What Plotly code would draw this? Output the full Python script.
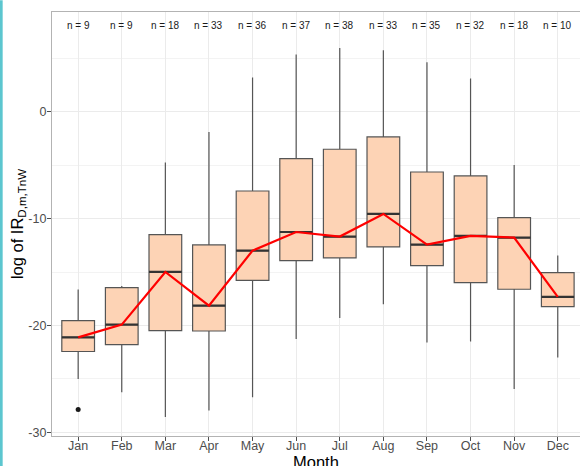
import plotly.graph_objects as go

months = ["Jan", "Feb", "Mar", "Apr", "May", "Jun", "Jul", "Aug", "Sep", "Oct", "Nov", "Dec"]
n_obs = [9, 9, 18, 33, 36, 37, 38, 33, 35, 32, 18, 10]
upper_whisker = [-16.63, -16.29, -4.74, -1.87, 3.22, 5.37, 5.99, 5.78, 4.65, 3.13, -4.96, -13.45]
q3 = [-19.53, -16.44, -11.48, -12.45, -7.40, -4.36, -3.49, -2.34, -5.62, -5.99, -9.89, -15.04]
median = [-21.10, -19.91, -14.98, -18.13, -12.98, -11.24, -11.67, -9.55, -12.42, -11.61, -11.76, -17.32]
q1 = [-22.43, -21.78, -20.47, -20.51, -15.76, -13.91, -13.67, -12.64, -14.38, -15.97, -16.60, -18.22]
lower_whisker = [-25.0, -26.25, -28.56, -27.96, -26.71, -21.25, -19.29, -18.0, -21.59, -21.50, -25.94, -23.0]
outlier_month = ["Jan"]
outlier_value = [-27.87]
y_ticks = [-30, -20, -10, 0]
y_tick_labels = ["-30", "-20", "-10", "0"]

idx = list(range(len(months)))
BOX_W = 0.75
FONT = "Liberation Sans, Arial, sans-serif"

fig = go.Figure()
fig.add_trace(go.Box(
    x=idx, q1=q1, median=median, q3=q3,
    lowerfence=lower_whisker, upperfence=upper_whisker,
    width=BOX_W, whiskerwidth=0, boxpoints=False,
    fillcolor="#FDD3B5", line=dict(color="#555555", width=1.2),
    showlegend=False, hoverinfo="skip",
))

# thicker median bars (ggplot style)
mx, my = [], []
for i, m in zip(idx, median):
    mx += [i - BOX_W / 2, i + BOX_W / 2, None]
    my += [m, m, None]
fig.add_trace(go.Scatter(x=mx, y=my, mode="lines",
                         line=dict(color="#333333", width=2.2),
                         showlegend=False, hoverinfo="skip"))

# outliers
fig.add_trace(go.Scatter(x=[months.index(m) for m in outlier_month], y=outlier_value,
                         mode="markers", marker=dict(color="#1a1a1a", size=5),
                         showlegend=False, hoverinfo="skip"))

# red line through medians
fig.add_trace(go.Scatter(x=idx, y=median, mode="lines",
                         line=dict(color="#FF0000", width=2.2),
                         showlegend=False, hoverinfo="skip"))

for i, n in zip(idx, n_obs):
    fig.add_annotation(x=i, y=8.1, text=f"n = {n}", showarrow=False,
                       font=dict(family=FONT, size=10, color="#1a1a1a"),
                       xanchor="center", yanchor="middle")

L, R, T, B = 52.3, 0, 11.7, 30.3
W, H = 580, 466
pw, ph = W - L - R, H - T - B

# x axis title
fig.add_annotation(xref="paper", yref="paper", x=0.5, y=0, yshift=-25.5,
                   text="Month", showarrow=False, xanchor="center", yanchor="middle",
                   font=dict(family=FONT, size=16.5, color="black"))

fig.add_shape(type="rect", xref="paper", yref="paper",
              x0=-L / pw, x1=(3 - L) / pw, y0=-B / ph, y1=1 + T / ph,
              fillcolor="#5CC6CF", line=dict(width=0), layer="above")

fig.update_layout(
    width=W, height=H,
    margin=dict(l=L, r=R, t=T, b=B, pad=0),
    paper_bgcolor="white", plot_bgcolor="white",
    font=dict(family=FONT),
    xaxis=dict(
        range=[-0.6, 11.51], tickvals=idx, ticktext=months,
        showgrid=True, gridcolor="#EBEBEB", gridwidth=1,
        showline=True, linecolor="#B3B3B3", linewidth=1.2, mirror=True,
        ticks="outside", ticklen=4, tickcolor="#4D4D4D",
        ticklabelstandoff=-6,
        tickfont=dict(family=FONT, size=12.5, color="#4D4D4D"),
        zeroline=False, automargin=False,
    ),
    yaxis=dict(
        range=[-30.34, 9.36], tickvals=y_ticks, ticktext=y_tick_labels,
        showgrid=True, gridcolor="#EBEBEB", gridwidth=1,
        minor=dict(dtick=5, tick0=0, showgrid=True, gridcolor="#F3F3F3", gridwidth=0.7),
        showline=True, linecolor="#B3B3B3", linewidth=1.2,
        ticks="outside", ticklen=4, tickcolor="#4D4D4D",
        ticklabelstandoff=-2,
        tickfont=dict(family=FONT, size=12.5, color="#4D4D4D"),
        title=dict(text="log of IR<sub>D,m,TnW</sub>",
                   font=dict(family=FONT, size=16.5, color="black"), standoff=0),
        zeroline=False, automargin=False,
    ),
)

fig.write_html("out.html", config={"displayModeBar": False},
               post_script="document.body.style.margin='0px';")
